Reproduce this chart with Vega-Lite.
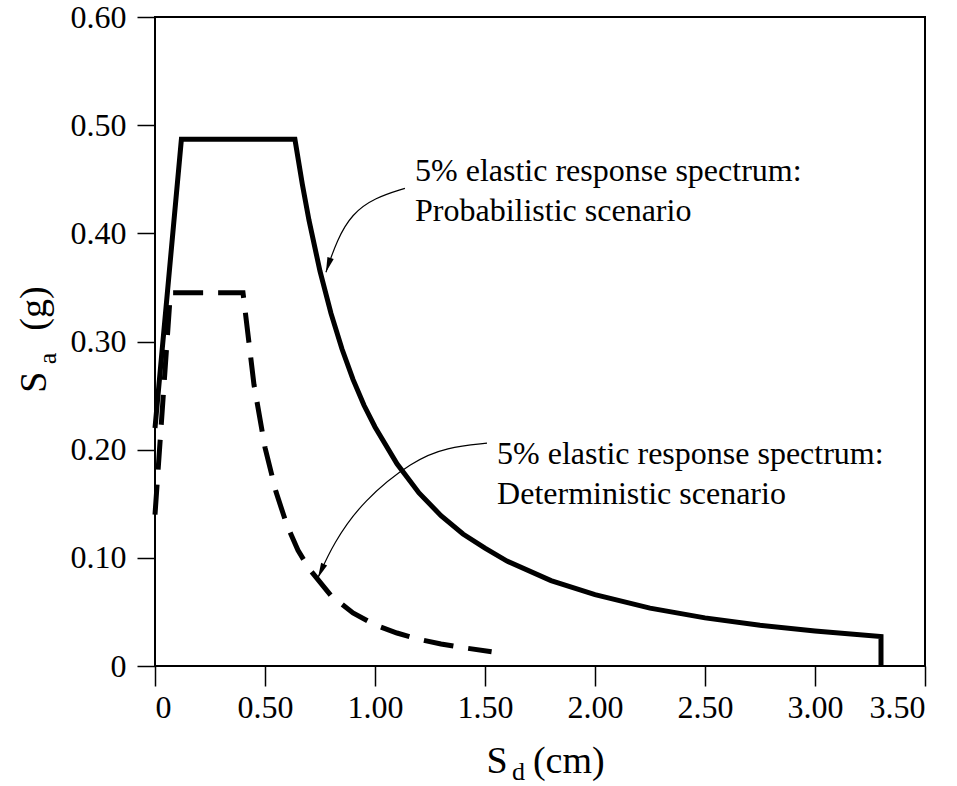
{
  "$schema": "https://vega.github.io/schema/vega-lite/v6.json",
  "autosize": {"type": "none"},
  "padding": {"left": 155, "top": 17, "right": 32, "bottom": 120},
  "width": 770,
  "height": 649,
  "background": "white",
  "config": {
    "font": "Liberation Serif",
    "view": {"stroke": "black", "strokeWidth": 2},
    "axis": {
      "domain": false,
      "grid": false,
      "tickColor": "black",
      "tickWidth": 1.5,
      "labelColor": "black",
      "labelFont": "Liberation Serif",
      "labelFontSize": 32,
      "title": null
    }
  },
  "datasets": {
    "spectra": [
      {"series": "Probabilistic", "i": 0, "Sd": 0.0, "Sa": 0.22},
      {"series": "Probabilistic", "i": 1, "Sd": 0.12, "Sa": 0.487},
      {"series": "Probabilistic", "i": 2, "Sd": 0.636, "Sa": 0.487},
      {"series": "Probabilistic", "i": 3, "Sd": 0.67, "Sa": 0.445},
      {"series": "Probabilistic", "i": 4, "Sd": 0.7, "Sa": 0.412},
      {"series": "Probabilistic", "i": 5, "Sd": 0.75, "Sa": 0.365},
      {"series": "Probabilistic", "i": 6, "Sd": 0.8, "Sa": 0.326},
      {"series": "Probabilistic", "i": 7, "Sd": 0.85, "Sa": 0.293},
      {"series": "Probabilistic", "i": 8, "Sd": 0.9, "Sa": 0.265},
      {"series": "Probabilistic", "i": 9, "Sd": 0.95, "Sa": 0.241},
      {"series": "Probabilistic", "i": 10, "Sd": 1.0, "Sa": 0.221},
      {"series": "Probabilistic", "i": 11, "Sd": 1.1, "Sa": 0.187},
      {"series": "Probabilistic", "i": 12, "Sd": 1.2, "Sa": 0.16},
      {"series": "Probabilistic", "i": 13, "Sd": 1.3, "Sa": 0.139},
      {"series": "Probabilistic", "i": 14, "Sd": 1.4, "Sa": 0.122},
      {"series": "Probabilistic", "i": 15, "Sd": 1.5, "Sa": 0.109},
      {"series": "Probabilistic", "i": 16, "Sd": 1.6, "Sa": 0.097},
      {"series": "Probabilistic", "i": 17, "Sd": 1.8, "Sa": 0.079},
      {"series": "Probabilistic", "i": 18, "Sd": 2.0, "Sa": 0.066},
      {"series": "Probabilistic", "i": 19, "Sd": 2.25, "Sa": 0.0535},
      {"series": "Probabilistic", "i": 20, "Sd": 2.5, "Sa": 0.0445},
      {"series": "Probabilistic", "i": 21, "Sd": 2.75, "Sa": 0.0376},
      {"series": "Probabilistic", "i": 22, "Sd": 3.0, "Sa": 0.0323},
      {"series": "Probabilistic", "i": 23, "Sd": 3.3, "Sa": 0.0273},
      {"series": "Probabilistic", "i": 24, "Sd": 3.3, "Sa": 0.0},
      {"series": "Deterministic", "i": 0, "Sd": 0.0, "Sa": 0.14},
      {"series": "Deterministic", "i": 1, "Sd": 0.07, "Sa": 0.345},
      {"series": "Deterministic", "i": 2, "Sd": 0.4, "Sa": 0.345},
      {"series": "Deterministic", "i": 3, "Sd": 0.45, "Sa": 0.26},
      {"series": "Deterministic", "i": 4, "Sd": 0.5, "Sa": 0.202},
      {"series": "Deterministic", "i": 5, "Sd": 0.55, "Sa": 0.161},
      {"series": "Deterministic", "i": 6, "Sd": 0.6, "Sa": 0.13},
      {"series": "Deterministic", "i": 7, "Sd": 0.65, "Sa": 0.107},
      {"series": "Deterministic", "i": 8, "Sd": 0.7, "Sa": 0.09},
      {"series": "Deterministic", "i": 9, "Sd": 0.8, "Sa": 0.065},
      {"series": "Deterministic", "i": 10, "Sd": 0.9, "Sa": 0.049},
      {"series": "Deterministic", "i": 11, "Sd": 1.0, "Sa": 0.038},
      {"series": "Deterministic", "i": 12, "Sd": 1.1, "Sa": 0.0305},
      {"series": "Deterministic", "i": 13, "Sd": 1.2, "Sa": 0.0247},
      {"series": "Deterministic", "i": 14, "Sd": 1.3, "Sa": 0.0204},
      {"series": "Deterministic", "i": 15, "Sd": 1.4, "Sa": 0.017},
      {"series": "Deterministic", "i": 16, "Sd": 1.53, "Sa": 0.0132}
    ],
    "arrows": [
      {"arrow": "prob", "i": 0, "Sd": 1.136, "Sa": 0.4416},
      {"arrow": "prob", "i": 1, "Sd": 1.0, "Sa": 0.433},
      {"arrow": "prob", "i": 2, "Sd": 0.895, "Sa": 0.418},
      {"arrow": "prob", "i": 3, "Sd": 0.827, "Sa": 0.394},
      {"arrow": "prob", "i": 4, "Sd": 0.777, "Sa": 0.364},
      {"arrow": "det", "i": 0, "Sd": 1.509, "Sa": 0.206},
      {"arrow": "det", "i": 1, "Sd": 1.327, "Sa": 0.2022},
      {"arrow": "det", "i": 2, "Sd": 1.173, "Sa": 0.19},
      {"arrow": "det", "i": 3, "Sd": 0.945, "Sa": 0.153},
      {"arrow": "det", "i": 4, "Sd": 0.809, "Sa": 0.113},
      {"arrow": "det", "i": 5, "Sd": 0.741, "Sa": 0.0816}
    ],
    "notes": [
      {"label": "5% elastic response spectrum:\nProbabilistic scenario", "Sd": 1.182, "Sa": 0.448},
      {"label": "5% elastic response spectrum:\nDeterministic scenario", "Sd": 1.555, "Sa": 0.187}
    ]
  },
  "layer": [
    {
      "data": {"name": "spectra"},
      "transform": [{"filter": "datum.series == 'Probabilistic'"}],
      "mark": {"type": "line", "color": "black", "strokeWidth": 5, "strokeJoin": "miter"},
      "encoding": {
        "x": {"field": "Sd", "type": "quantitative", "scale": {"domain": [0, 3.5], "nice": false},
          "axis": {"values": [0, 0.5, 1, 1.5, 2, 2.5, 3, 3.5], "tickSize": 20, "labelPadding": 6,
            "labelExpr": "datum.value == 0 ? '0' : format(datum.value, '.2f')"}},
        "y": {"field": "Sa", "type": "quantitative", "scale": {"domain": [0, 0.6], "nice": false},
          "axis": {"values": [0, 0.1, 0.2, 0.3, 0.4, 0.5, 0.6], "tickSize": 18, "labelPadding": 11,
            "labelExpr": "datum.value == 0 ? '0' : format(datum.value, '.2f')"}},
        "order": {"field": "i", "type": "quantitative"}
      }
    },
    {
      "data": {"name": "spectra"},
      "transform": [{"filter": "datum.series == 'Deterministic'"}],
      "mark": {"type": "line", "color": "black", "strokeWidth": 5, "strokeDash": [30, 15]},
      "encoding": {
        "x": {"field": "Sd", "type": "quantitative"},
        "y": {"field": "Sa", "type": "quantitative"},
        "order": {"field": "i", "type": "quantitative"}
      }
    },
    {
      "data": {"name": "arrows"},
      "mark": {"type": "line", "color": "black", "strokeWidth": 1.2, "interpolate": "basis"},
      "encoding": {
        "x": {"field": "Sd", "type": "quantitative"},
        "y": {"field": "Sa", "type": "quantitative"},
        "detail": {"field": "arrow"},
        "order": {"field": "i", "type": "quantitative"}
      }
    },
    {
      "data": {"name": "arrows"},
      "transform": [{"filter": "datum.arrow == 'prob' && datum.i == 4"}],
      "mark": {"type": "point", "filled": true, "color": "black", "opacity": 1, "size": 900,
        "shape": "M0,0L-0.22,-1L0.22,-1Z", "angle": 18},
      "encoding": {
        "x": {"field": "Sd", "type": "quantitative"},
        "y": {"field": "Sa", "type": "quantitative"}
      }
    },
    {
      "data": {"name": "arrows"},
      "transform": [{"filter": "datum.arrow == 'det' && datum.i == 5"}],
      "mark": {"type": "point", "filled": true, "color": "black", "opacity": 1, "size": 900,
        "shape": "M0,0L-0.22,-1L0.22,-1Z", "angle": 24},
      "encoding": {
        "x": {"field": "Sd", "type": "quantitative"},
        "y": {"field": "Sa", "type": "quantitative"}
      }
    },
    {
      "data": {"name": "notes"},
      "mark": {"type": "text", "align": "left", "baseline": "alphabetic", "fontSize": 32,
        "lineBreak": "\n", "lineHeight": 40, "color": "black", "font": "Liberation Serif"},
      "encoding": {
        "x": {"field": "Sd", "type": "quantitative"},
        "y": {"field": "Sa", "type": "quantitative"},
        "text": {"field": "label"}
      }
    },
    {
      "data": {"values": [{}]},
      "mark": {"type": "text", "align": "center", "baseline": "alphabetic", "fontSize": 38, "color": "black", "font": "Liberation Serif"},
      "encoding": {"x": {"datum": 1.555}, "y": {"datum": -0.0993}, "text": {"value": "S"}}
    },
    {
      "data": {"values": [{}]},
      "mark": {"type": "text", "align": "left", "baseline": "alphabetic", "fontSize": 26, "color": "black", "font": "Liberation Serif"},
      "encoding": {"x": {"datum": 1.623}, "y": {"datum": -0.1058}, "text": {"value": "d"}}
    },
    {
      "data": {"values": [{}]},
      "mark": {"type": "text", "align": "left", "baseline": "alphabetic", "fontSize": 38, "color": "black", "font": "Liberation Serif"},
      "encoding": {"x": {"datum": 1.718}, "y": {"datum": -0.0993}, "text": {"value": "(cm)"}}
    },
    {
      "data": {"values": [{}]},
      "mark": {"type": "text", "align": "center", "baseline": "alphabetic", "fontSize": 38, "angle": 270, "color": "black", "font": "Liberation Serif"},
      "encoding": {"x": {"datum": -0.495}, "y": {"datum": 0.2625}, "text": {"value": "S"}}
    },
    {
      "data": {"values": [{}]},
      "mark": {"type": "text", "align": "left", "baseline": "alphabetic", "fontSize": 26, "angle": 270, "color": "black", "font": "Liberation Serif"},
      "encoding": {"x": {"datum": -0.452}, "y": {"datum": 0.279}, "text": {"value": "a"}}
    },
    {
      "data": {"values": [{}]},
      "mark": {"type": "text", "align": "left", "baseline": "alphabetic", "fontSize": 38, "angle": 270, "color": "black", "font": "Liberation Serif"},
      "encoding": {"x": {"datum": -0.495}, "y": {"datum": 0.31}, "text": {"value": "(g)"}}
    }
  ]
}
